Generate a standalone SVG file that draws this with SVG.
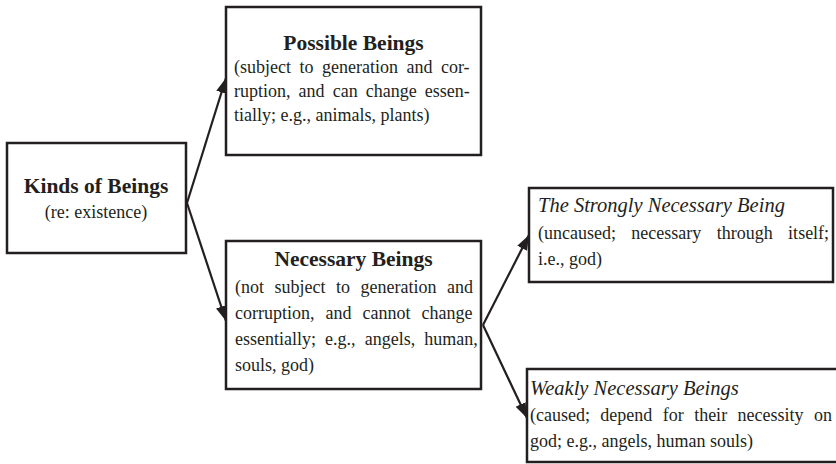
<svg xmlns="http://www.w3.org/2000/svg" width="836" height="464" viewBox="0 0 836 464">
<style>
.box{fill:#fff;stroke:#231f20;stroke-width:2.5}
text{font-family:"Liberation Serif","Times New Roman",serif;fill:#231f20}
.t{font-size:21.5px;font-weight:bold;text-anchor:middle}
.it{font-size:20.5px;font-style:italic}
.b{font-size:18px}
.c{text-anchor:middle}
.edge{stroke:#231f20;stroke-width:2.2;fill:none}
</style>
<defs>
<marker id="ah" markerUnits="userSpaceOnUse" markerWidth="16" markerHeight="12" refX="15" refY="6" orient="auto">
<path d="M0,0.5 L15,6 L0,11.5 Z" fill="#231f20"/>
</marker>
</defs>
<rect width="836" height="464" fill="#fff"/>
<g id="edges">
<line class="edge" x1="187" y1="203" x2="226" y2="78" marker-end="url(#ah)"/>
<line class="edge" x1="187" y1="203" x2="226" y2="321" marker-end="url(#ah)"/>
<line class="edge" x1="483" y1="325" x2="529" y2="235" marker-end="url(#ah)"/>
<line class="edge" x1="483" y1="325" x2="527" y2="418" marker-end="url(#ah)"/>
</g>
<g id="kinds">
<rect class="box" x="7" y="143" width="179" height="110"/>
<text class="t" x="96" y="193">Kinds of Beings</text>
<text class="b c" x="96" y="218">(re: existence)</text>
</g>
<g id="possible">
<rect class="box" x="226" y="7" width="255" height="148"/>
<text class="t" x="353.5" y="50">Possible Beings</text>
<text class="b" x="234" y="73" word-spacing="4">(subject to generation and cor-</text>
<text class="b" x="234" y="97" word-spacing="3.6">ruption, and can change essen-</text>
<text class="b" x="234" y="121">tially; e.g., animals, plants)</text>
</g>
<g id="necessary">
<rect class="box" x="226" y="241" width="255" height="148"/>
<text class="t" x="353.5" y="266">Necessary Beings</text>
<text class="b" x="235" y="293" word-spacing="6">(not subject to generation and</text>
<text class="b" x="235" y="319" word-spacing="6.5">corruption, and cannot change</text>
<text class="b" x="235" y="345" word-spacing="4.6">essentially; e.g., angels, human,</text>
<text class="b" x="235" y="371">souls, god)</text>
</g>
<g id="strongly">
<rect class="box" x="529" y="188" width="304" height="94"/>
<text class="it" x="538" y="212">The Strongly Necessary Being</text>
<text class="b" x="538" y="239" word-spacing="10.9">(uncaused; necessary through itself;</text>
<text class="b" x="538" y="265">i.e., god)</text>
</g>
<g id="weakly">
<rect class="box" x="527" y="369" width="330" height="93"/>
<text class="it" x="530" y="395">Weakly Necessary Beings</text>
<text class="b" x="530" y="421" word-spacing="5.9">(caused; depend for their necessity on</text>
<text class="b" x="530" y="447">god; e.g., angels, human souls)</text>
</g>
</svg>
